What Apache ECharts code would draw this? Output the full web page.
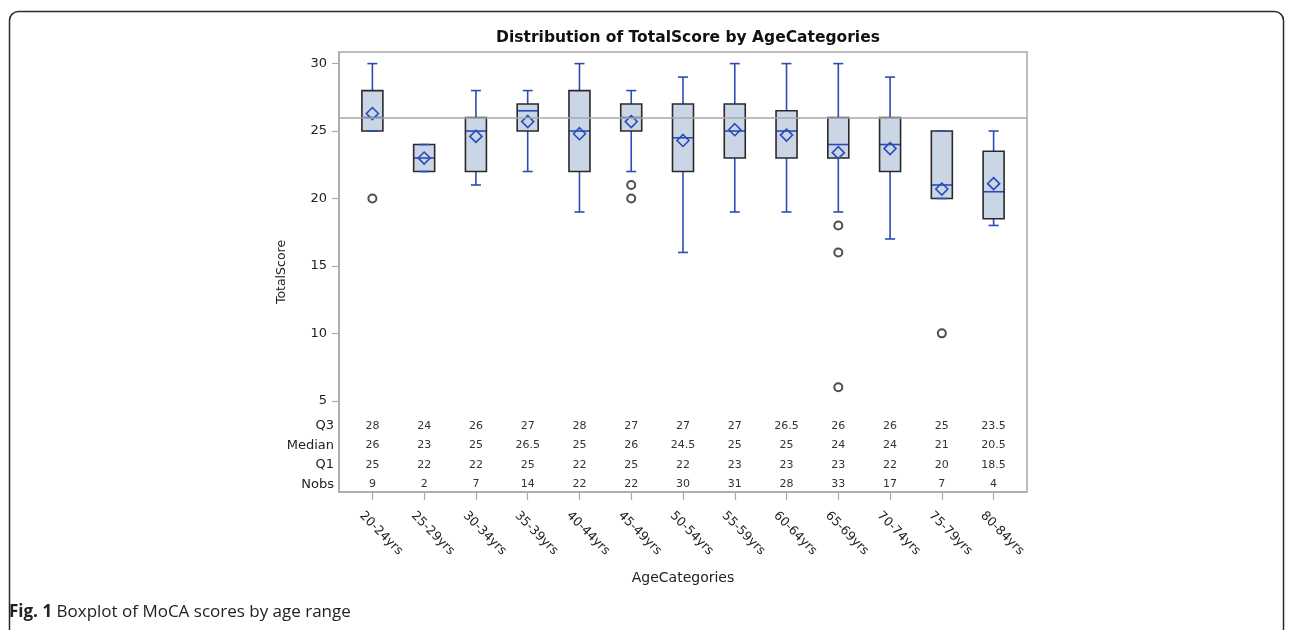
<!DOCTYPE html>
<html><head><meta charset="utf-8">
<script src="https://cdn.jsdelivr.net/npm/echarts@6/dist/echarts.min.js"></script>
<style>html,body{margin:0;padding:0;background:#fff}#c{width:1292px;height:630px}</style>
</head><body><div id="c"></div>
<script>
const ageCats = ['20-24yrs','25-29yrs','30-34yrs','35-39yrs','40-44yrs','45-49yrs','50-54yrs','55-59yrs','60-64yrs','65-69yrs','70-74yrs','75-79yrs','80-84yrs'];
const whiskerLow  = [25, 22, 21, 22, 19, 22, 16, 19, 19, 19, 17, 20, 18];
const q1          = [25, 22, 22, 25, 22, 25, 22, 23, 23, 23, 22, 20, 18.5];
const median      = [26, 23, 25, 26.5, 25, 26, 24.5, 25, 25, 24, 24, 21, 20.5];
const q3          = [28, 24, 26, 27, 28, 27, 27, 27, 26.5, 26, 26, 25, 23.5];
const whiskerHigh = [30, 24, 28, 28, 30, 28, 29, 30, 30, 30, 29, 25, 25];
const means       = [26.3, 23.0, 24.6, 25.7, 24.8, 25.7, 24.3, 25.1, 24.7, 23.4, 23.7, 20.7, 21.1];
const nobs        = [9, 2, 7, 14, 22, 22, 30, 31, 28, 33, 17, 7, 4];
const outliers    = [[0, 20], [5, 21], [5, 20], [9, 18], [9, 16], [9, 6], [11, 10]];
const tableRows   = ['Nobs', 'Q1', 'Median', 'Q3'];
const yTicks      = [5, 10, 15, 20, 25, 30];
const refValue    = 26;

const catIdx = ageCats.map((_, i) => i);
const boxData = ageCats.map((_, i) => [i, whiskerLow[i], q1[i], median[i], q3[i], whiskerHigh[i], means[i]]);
const rowSource = { Nobs: nobs, Q1: q1, Median: median, Q3: q3 };
const tableData = [];
tableRows.forEach((r, ri) => rowSource[r].forEach((v, i) => tableData.push([i, ri, String(v)])));

const FONT = '"DejaVu Sans", sans-serif';
const BLUE = '#2a4bb8';
const GRAY = '#a9a9a9';

function renderBox(params, api) {
  const i = api.value(0);
  const pLo = api.coord([i, api.value(1)]);
  const pQ1 = api.coord([i, api.value(2)]);
  const pMd = api.coord([i, api.value(3)]);
  const pQ3 = api.coord([i, api.value(4)]);
  const pHi = api.coord([i, api.value(5)]);
  const pMn = api.coord([i, api.value(6)]);
  const x = pMd[0], hw = 10.5, cw = 5, d = 6;
  const ls = { stroke: BLUE, lineWidth: 1.6 };
  return { type: 'group', children: [
    { type: 'rect', shape: { x: x - hw, y: pQ3[1], width: 2 * hw, height: pQ1[1] - pQ3[1] }, style: { fill: '#cad5e5' } },
    { type: 'line', shape: { x1: x, y1: pQ3[1], x2: x, y2: pHi[1] }, style: ls },
    { type: 'line', shape: { x1: x, y1: pQ1[1], x2: x, y2: pLo[1] }, style: ls },
    { type: 'line', shape: { x1: x - hw, y1: pMd[1], x2: x + hw, y2: pMd[1] }, style: ls },
    { type: 'rect', shape: { x: x - hw, y: pQ3[1], width: 2 * hw, height: pQ1[1] - pQ3[1] }, style: { fill: 'none', stroke: '#2a2a2a', lineWidth: 1.6 } },
    { type: 'line', shape: { x1: x - cw, y1: pHi[1], x2: x + cw, y2: pHi[1] }, style: ls },
    { type: 'line', shape: { x1: x - cw, y1: pLo[1], x2: x + cw, y2: pLo[1] }, style: ls },
    { type: 'polygon', shape: { points: [[x, pMn[1] - d], [x + d, pMn[1]], [x, pMn[1] + d], [x - d, pMn[1]]] }, style: { fill: 'none', stroke: BLUE, lineWidth: 1.6 } }
  ]};
}

function renderText(params, api) {
  const p = api.coord([api.value(0), api.value(1)]);
  return { type: 'text', x: p[0], y: p[1], style: { text: tableData[params.dataIndex][2], fontSize: 11, fontFamily: FONT, fill: '#333', align: 'center', verticalAlign: 'middle' } };
}

const chart = echarts.init(document.getElementById('c'), null, { renderer: 'canvas' });
chart.setOption({
  animation: false,
  backgroundColor: '#fff',
  title: { text: 'Distribution of TotalScore by AgeCategories', left: 683, top: 25, textAlign: 'center',
    textStyle: { fontSize: 15.5, fontWeight: 'bold', color: '#111', fontFamily: FONT } },
  grid: [
    { left: 339, top: 52, width: 688, height: 440, show: true, borderColor: GRAY, borderWidth: 1.5, backgroundColor: 'transparent' },
    { left: 339, top: 416, width: 688, height: 78, show: false }
  ],
  xAxis: [
    { gridIndex: 0, type: 'value', min: -0.645, max: 12.645,
      name: 'AgeCategories', nameLocation: 'middle', nameGap: 79,
      nameTextStyle: { fontSize: 14, color: '#222', fontFamily: FONT },
      axisLine: { show: true, onZero: false, lineStyle: { color: GRAY, width: 1.5 } },
      splitLine: { show: false },
      axisTick: { show: true, length: 8, customValues: catIdx, lineStyle: { color: GRAY, width: 1.2 } },
      axisLabel: { customValues: catIdx, formatter: v => ageCats[v], rotate: -45, align: 'left', verticalAlign: 'top',
        padding: [11, 0, 0, 2], margin: 8, fontSize: 12.5, color: '#222', fontFamily: FONT } },
    { gridIndex: 1, type: 'value', min: -0.645, max: 12.645, show: false }
  ],
  yAxis: [
    { gridIndex: 0, type: 'value', min: -1.76, max: 30.86,
      name: 'TotalScore', nameLocation: 'middle', nameGap: 51,
      nameTextStyle: { fontSize: 12.5, color: '#222', fontFamily: FONT },
      axisLine: { show: true, onZero: false, lineStyle: { color: GRAY, width: 1.5 } },
      splitLine: { show: false },
      axisTick: { show: true, length: 7, customValues: yTicks, lineStyle: { color: GRAY, width: 1.2 } },
      axisLabel: { customValues: yTicks, margin: 12, fontSize: 13, color: '#222', fontFamily: FONT } },
    { gridIndex: 1, type: 'category', data: tableRows,
      axisLine: { show: false }, axisTick: { show: false }, splitLine: { show: false },
      axisLabel: { margin: 5, fontSize: 13, color: '#222', fontFamily: FONT } }
  ],
  series: [
    { type: 'custom', name: 'box', xAxisIndex: 0, yAxisIndex: 0, z: 2, renderItem: renderBox, data: boxData, silent: true },
    { type: 'scatter', name: 'outliers', xAxisIndex: 0, yAxisIndex: 0, z: 5, symbol: 'emptyCircle', symbolSize: 8,
      itemStyle: { color: '#222', borderWidth: 1.5 }, data: outliers, silent: true,
      markLine: { silent: true, symbol: 'none', label: { show: false }, z: 6,
        lineStyle: { color: GRAY, width: 1.5, type: 'solid' }, data: [{ yAxis: refValue }] } },
    { type: 'custom', name: 'table', xAxisIndex: 1, yAxisIndex: 1, renderItem: renderText, data: tableData, silent: true }
  ],
  graphic: [
    { type: 'rect', z: -10, shape: { x: 9.5, y: 11.5, width: 1274, height: 700, r: 9 }, style: { fill: 'none', stroke: '#2a2a2a', lineWidth: 1.5 } },
    { type: 'text', left: 9, top: 604, style: { text: '{b|Fig. 1} Boxplot of MoCA scores by age range',
      fontSize: 17, fontFamily: '"Open Sans", sans-serif', fill: '#222',
      rich: { b: { fontSize: 17, fontWeight: 'bold', fontFamily: '"Open Sans", sans-serif', fill: '#222' } } } }
  ]
});
</script>
</body></html>
